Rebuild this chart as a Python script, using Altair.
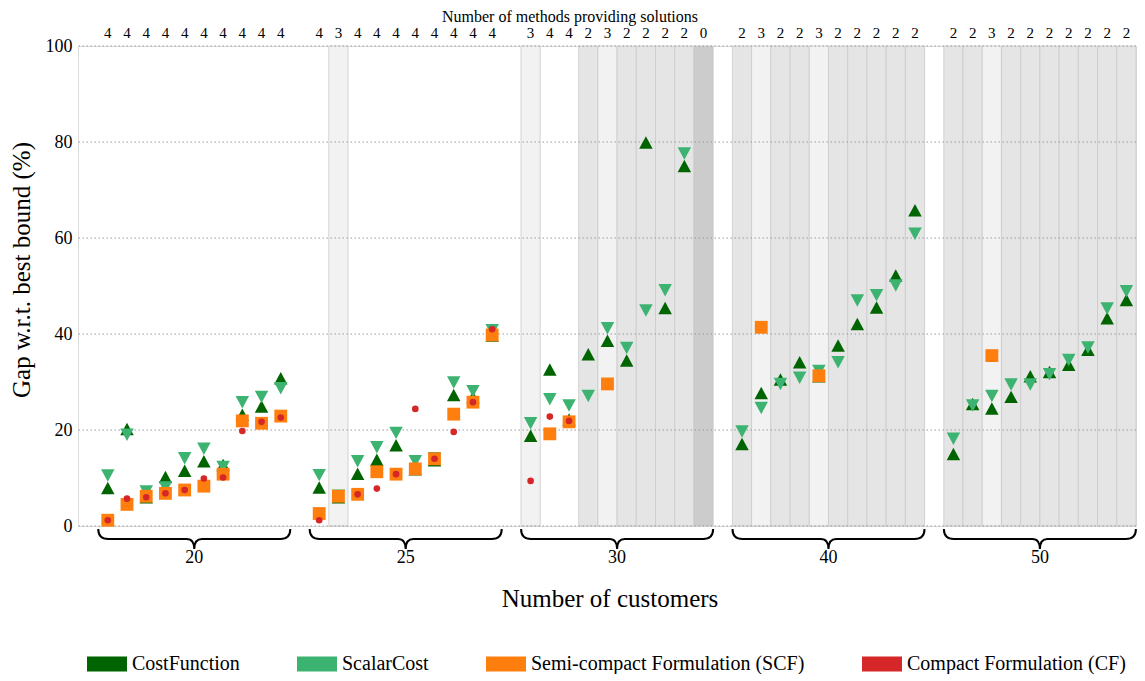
import altair as alt
import pandas as pd

# ---------------- data ----------------
customers = [20, 25, 30, 40, 50]

n_methods = [
    [4, 4, 4, 4, 4, 4, 4, 4, 4, 4],
    [4, 3, 4, 4, 4, 4, 4, 4, 4, 4],
    [3, 4, 4, 2, 3, 2, 2, 2, 2, 0],
    [2, 3, 2, 2, 3, 2, 2, 2, 2, 2],
    [2, 2, 3, 2, 2, 2, 2, 2, 2, 2],
]

cost_function = [
    [9.2, 21.5, 7.3, 11.5, 12.8, 14.8, 14.0, 24.5, 26.2, 32.1],
    [9.3, 7.3, 12.2, 15.1, 18.1, 13.1, 15.0, 28.6, 28.1, 41.0],
    [20.1, 33.9, 23.5, 37.1, 39.9, 35.8, 81.2, 46.7, 76.3, None],
    [18.4, 29.0, 31.8, 35.4, 32.5, 38.9, 43.4, 46.8, 53.5, 67.1],
    [16.3, 26.7, 25.8, 28.2, 32.5, 33.4, 34.9, 38.0, 44.6, 48.4],
]
scalar_cost = [
    [9.2, 17.7, 5.9, 6.7, 12.8, 14.8, 11.0, 24.5, 25.6, 27.4],
    [9.3, 5.0, 12.2, 15.1, 18.1, 12.2, 12.8, 28.6, 26.8, 39.5],
    [20.1, 25.1, 23.8, 25.8, 39.9, 35.8, 43.6, 47.8, 76.3, None],
    [18.4, 23.3, 28.3, 29.6, 31.0, 32.8, 45.7, 46.8, 48.8, 59.6],
    [16.9, 23.8, 25.8, 28.2, 28.2, 30.3, 33.3, 35.9, 44.0, 47.6],
]
semi_compact = [
    [1.2, 4.5, 6.2, 6.8, 7.5, 8.3, 10.8, 21.9, 21.4, 22.9],
    [2.6, 6.2, 6.6, 11.3, 10.8, 11.9, 14.0, 23.3, 25.8, 39.8],
    [None, 19.2, 21.7, None, 29.6, None, None, None, None, None],
    [None, 41.4, None, None, 31.3, None, None, None, None, None],
    [None, None, 35.5, None, None, None, None, None, None, None],
]
compact = [
    [1.2, 5.7, 6.0, 6.8, 7.5, 9.9, 10.1, 19.8, 21.7, 22.6],
    [1.2, None, 6.6, 7.8, 10.8, 24.4, 14.0, 19.6, 25.8, 41.0],
    [9.4, 22.8, 21.9, None, None, None, None, None, None, None],
    [None, None, None, None, None, None, None, None, None, None],
    [None, None, None, None, None, None, None, None, None, None],
]

method_names = [
    "CostFunction",
    "ScalarCost",
    "Semi-compact Formulation (SCF)",
    "Compact Formulation (CF)",
]
method_values = [cost_function, scalar_cost, semi_compact, compact]
method_colors = ["#006400", "#3cb371", "#ff7f0e", "#d62728"]

y_ticks = [0, 20, 40, 60, 80, 100]

top_title = "Number of methods providing solutions"
x_title = "Number of customers"
y_title = "Gap w.r.t. best bound (%)"

# ---------------- tables ----------------
SLOT = 11  # 10 instances + 1 empty slot between groups
col_rows, pt_rows, grp_rows = [], [], []
for g, c in enumerate(customers):
    grp_rows.append({"customers": str(c), "center": g * SLOT + 4.5})
    for j in range(10):
        pos = g * SLOT + j
        col_rows.append({"pos": pos, "n": n_methods[g][j]})
        for name, vals in zip(method_names, method_values):
            v = vals[g][j]
            if v is not None:
                pt_rows.append({"pos": pos, "method": name, "value": v})

cols = pd.DataFrame(col_rows)
pts = pd.DataFrame(pt_rows)
grps = pd.DataFrame(grp_rows)
ticks_df = pd.DataFrame({"tick": y_ticks})

FONT = "Liberation Serif"

xscale = alt.Scale(domain=[-1.55, 53.5], nice=False, zero=False)
yscale = alt.Scale(domain=[0, 100], nice=False, zero=False)

X = alt.X("pos:Q", scale=xscale, axis=None)

# shading of columns by number of methods
shade = (
    alt.Chart(cols)
    .transform_filter("datum.n < 4")
    .transform_calculate(x0="datum.pos - 0.5", x1="datum.pos + 0.5")
    .mark_rect(stroke="#cacaca", strokeWidth=0.8)
    .encode(
        x=alt.X("x0:Q", scale=xscale, axis=None),
        x2="x1:Q",
        y=alt.datum(0, scale=yscale),
        y2=alt.datum(100),
        fill=alt.Fill(
            "n:N",
            scale=alt.Scale(domain=[3, 2, 0], range=["#f2f2f2", "#e5e5e5", "#cccccc"]),
            legend=None,
        ),
    )
)

grid = (
    alt.Chart(ticks_df)
    .mark_rule(color="#9a9a9a", strokeWidth=1, strokeDash=[1.5, 2.5])
    .encode(
        y=alt.Y(
            "tick:Q",
            scale=yscale,
            axis=alt.Axis(
                values=y_ticks,
                grid=False,
                domain=False,
                ticks=False,
                labelPadding=6,
                labelFont=FONT,
                labelFontSize=18,
                labelColor="black",
                title=None,
            ),
        )
    )
)

legend = alt.Legend(
    title=None,
    orient="none",
    legendX=9,
    legendY=598,
    direction="horizontal",
    columns=4,
    symbolType="M-1,-0.37H1V0.37H-1Z",
    symbolSize=1600,
    symbolStrokeWidth=0,
    symbolOpacity=1,
    labelFont=FONT,
    labelFontSize=20,
    labelColor="black",
    labelOffset=5,
    labelLimit=400,
    columnPadding=57,
    padding=0,
)
color = alt.Color(
    "method:N",
    scale=alt.Scale(domain=method_names, range=method_colors),
    legend=legend,
)

up_path = "M0,0L-1,1.85L1,1.85Z"      # caret up, apex on the value
down_path = "M0,0L-1,-1.85L1,-1.85Z"  # caret down, apex on the value
shapes = [up_path, down_path, "square", "circle"]
sizes = [182, 182, 165, 44]

point_layers = []
for name, shp, sz in zip(method_names, shapes, sizes):
    point_layers.append(
        alt.Chart(pts)
        .transform_filter(alt.datum.method == name)
        .mark_point(filled=True, shape=shp, size=sz, opacity=1)
        .encode(x=X, y=alt.Y("value:Q", scale=yscale), color=color)
    )

brace_path = ("M-1,-0.104Q-1,0 -0.896,0L-0.08,0Q0,0 0,0.104"
              "Q0,0 0.08,0L0.896,0Q1,0 1,-0.104")
braces = (
    alt.Chart(grps)
    .mark_point(shape=brace_path, size=192 * 192, filled=False,
                color="black", strokeWidth=2, opacity=1)
    .encode(
        x=alt.X("center:Q", scale=xscale, axis=None),
        y=alt.datum(0),
        yOffset=alt.value(13),
    )
)

group_labels = (
    alt.Chart(grps)
    .mark_text(font=FONT, fontSize=18, color="black", baseline="middle")
    .encode(x=alt.X("center:Q", scale=xscale, axis=None),
            y=alt.value(512), text="customers:N")
)

count_labels = (
    alt.Chart(cols)
    .mark_text(font=FONT, fontSize=15, color="black", baseline="middle")
    .encode(x=X, y=alt.value(-13), text="n:N")
)

txt = pd.DataFrame({"top": [top_title], "xt": [x_title], "yt": [y_title]})
top_text = (
    alt.Chart(txt)
    .mark_text(font=FONT, fontSize=16, color="black", baseline="alphabetic")
    .encode(x=alt.value(492), y=alt.value(-24), text="top:N")
)
x_text = (
    alt.Chart(txt)
    .mark_text(font=FONT, fontSize=25, color="black", baseline="middle")
    .encode(x=alt.value(532), y=alt.value(553), text="xt:N")
)
y_text = (
    alt.Chart(txt)
    .mark_text(font=FONT, fontSize=25, color="black", baseline="middle", angle=270)
    .encode(x=alt.value(-56), y=alt.value(224), text="yt:N")
)

chart = (
    alt.layer(shade, grid, *point_layers, braces, group_labels, count_labels,
              top_text, x_text, y_text)
    .properties(
        width=1058,
        height=480,
        autosize=alt.AutoSizeParams(type="none"),
        padding={"left": 70, "top": 38, "right": 1, "bottom": 148},
    )
    .configure_view(stroke=None)
    .configure(background="white")
)

chart.save("out.html", embed_options={"renderer": "svg", "actions": False})
